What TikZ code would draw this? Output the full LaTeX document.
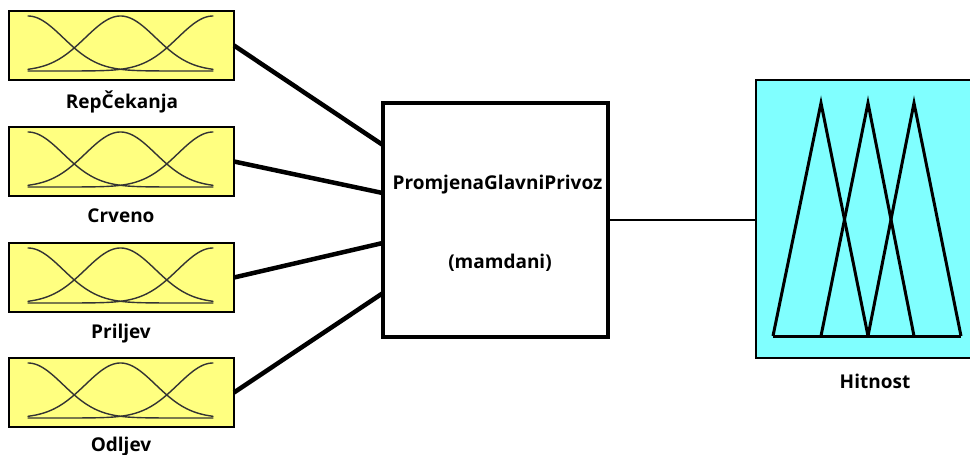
\documentclass[tikz,border=0pt]{standalone}
\usepackage{fontspec}
\setmainfont{Open Sans}
\usetikzlibrary{calc}
\definecolor{mfyellow}{RGB}{255,255,128}
\definecolor{mfcyan}{RGB}{128,255,255}
\newcommand{\mfcurves}[1]{%
  \begin{scope}[shift={(0,#1)}]
    \draw[mfline] plot[domain=28:213,samples=90,smooth] (\x,{60-55*exp(-((\x-28)/100)*((\x-28)/100)/0.2465)});
    \draw[mfline] plot[domain=28:213,samples=90,smooth] (\x,{60-55*exp(-((\x-120.5)/100)*((\x-120.5)/100)/0.2465)});
    \draw[mfline] plot[domain=28:213,samples=90,smooth] (\x,{60-55*exp(-((\x-213)/100)*((\x-213)/100)/0.2465)});
  \end{scope}}
\begin{document}
\begin{tikzpicture}[x=1pt,y=-1pt,
  inbox/.style={draw=black,line width=2pt,fill=mfyellow,minimum width=225pt,minimum height=69pt,inner sep=0pt,outer sep=0pt,anchor=north west},
  fisbox/.style={draw=black,line width=3.5pt,fill=white,minimum width=225pt,minimum height=234pt,inner sep=0pt,outer sep=0pt,anchor=north west},
  outbox/.style={draw=black,line width=2pt,fill=mfcyan,minimum width=218pt,minimum height=278pt,inner sep=0pt,outer sep=0pt,anchor=north west},
  lbl/.style={font=\fontsize{19}{22}\selectfont\bfseries,inner sep=0pt,anchor=base},
  conn/.style={line width=4.5pt},
  outconn/.style={line width=2.5pt},
  mfline/.style={line width=1.4pt,black!80,line cap=round},
  triline/.style={line width=3pt,black}]
\useasboundingbox (0,0) rectangle (970,455);
\fill[white] (0,0) rectangle (970,455);
% input boxes
\node[inbox] (in1) at (9,11) {};
\node[inbox] (in2) at (9,127) {};
\node[inbox] (in3) at (9,243) {};
\node[inbox] (in4) at (9,358) {};
\mfcurves{11}
\mfcurves{127}
\mfcurves{243}
\mfcurves{358}
\node[lbl] (l1) at (122,108) {RepČekanja};
\node[lbl] (l2) at (121,222) {Crveno};
\node[lbl] (l3) at (121,338) {Priljev};
\node[lbl] (l4) at (121,451) {Odljev};
% FIS box
\node[fisbox] (fis) at (383,103) {};
\node[lbl] (t1) at (497.5,189) {PromjenaGlavniPrivoz};
\node[lbl] (t2) at (500,268) {(mamdani)};
% output box
\node[outbox] (out) at (756,80) {};
\draw[triline] (773,336) -- (821,103) -- (868,336);
\draw[triline] (821,336) -- (868,103) -- (914,336);
\draw[triline] (868,336) -- (914,103) -- (961,336);
\draw[triline] (773,336) -- (961,336);
\node[lbl] (l5) at (875,388) {Hitnost};
% connectors
\coordinate (f1) at ($(fis.north west)!0.18!(fis.south west)$);
\coordinate (f2) at ($(fis.north west)!0.385!(fis.south west)$);
\coordinate (f3) at ($(fis.north west)!0.598!(fis.south west)$);
\coordinate (f4) at ($(fis.north west)!0.812!(fis.south west)$);
\draw[conn] (in1.east) -- (f1);
\draw[conn] (in2.east) -- (f2);
\draw[conn] (in3.east) -- (f3);
\draw[conn] (in4.east) -- (f4);
\draw[outconn] (fis.east) -- (fis.east -| out.west);
\end{tikzpicture}
\end{document}
